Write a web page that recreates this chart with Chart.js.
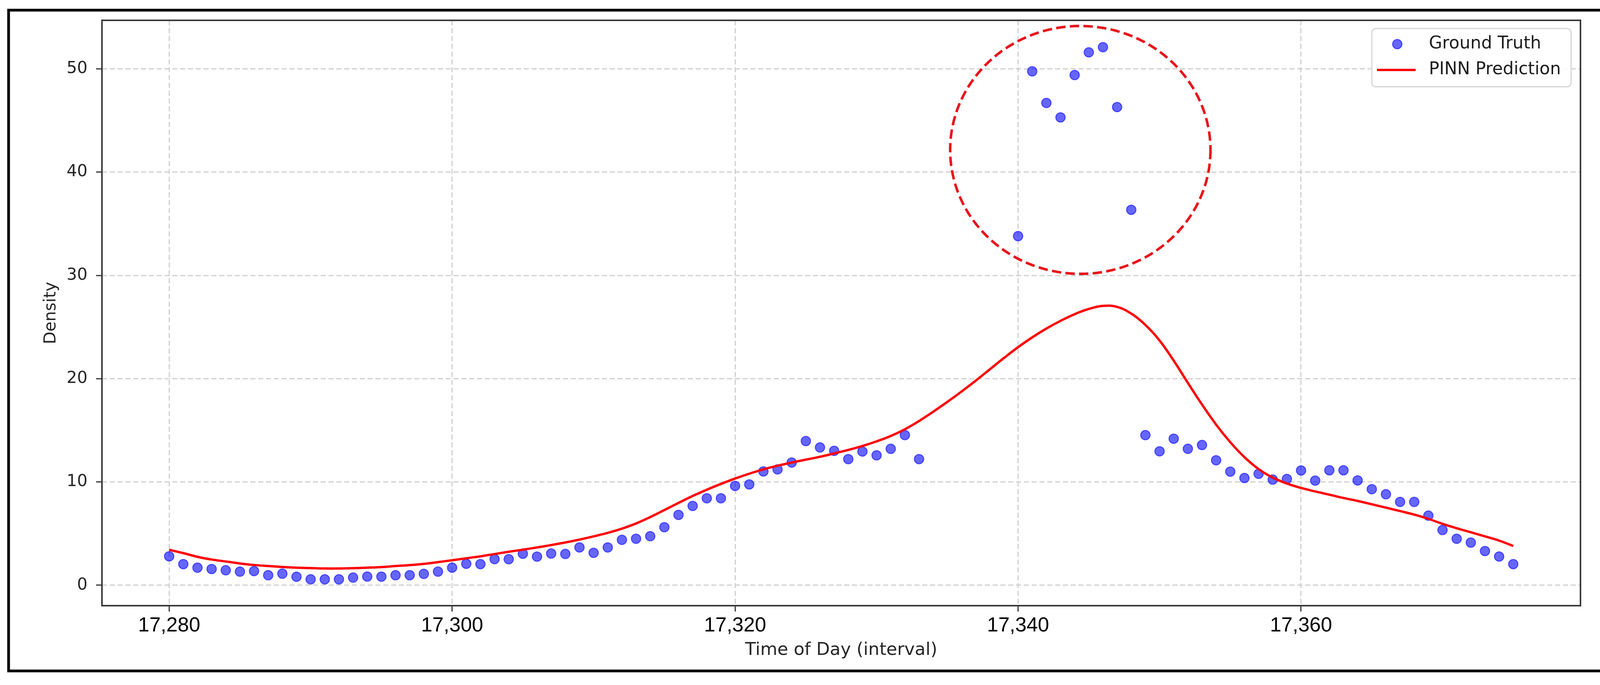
<!DOCTYPE html>
<html>
<head>
<meta charset="utf-8">
<title>Density: Ground Truth vs PINN Prediction</title>
<script src="https://cdn.jsdelivr.net/npm/chart.js@4.4.1/dist/chart.umd.min.js"></script>
<style>
  html, body { margin: 0; padding: 0; background: #fff; }
  #wrap { width: 4139px; height: 1753px; }
</style>
</head>
<body>
<div id="wrap"><canvas id="chart" width="4139" height="1753"></canvas></div>
<script>
// ============ values ============
// observed density (gap 17334-17339 has no observations)
const gtTime = [
  17280, 17281, 17282, 17283, 17284, 17285, 17286, 17287, 17288, 17289,
  17290, 17291, 17292, 17293, 17294, 17295, 17296, 17297, 17298, 17299,
  17300, 17301, 17302, 17303, 17304, 17305, 17306, 17307, 17308, 17309,
  17310, 17311, 17312, 17313, 17314, 17315, 17316, 17317, 17318, 17319,
  17320, 17321, 17322, 17323, 17324, 17325, 17326, 17327, 17328, 17329,
  17330, 17331, 17332, 17333,
  17340, 17341, 17342, 17343, 17344, 17345, 17346, 17347, 17348, 17349,
  17350, 17351, 17352, 17353, 17354, 17355, 17356, 17357, 17358, 17359,
  17360, 17361, 17362, 17363, 17364, 17365, 17366, 17367, 17368, 17369,
  17370, 17371, 17372, 17373, 17374, 17375
];
const gtDensity = [
  2.80, 2.04, 1.70, 1.57, 1.45, 1.32, 1.37, 0.97, 1.12, 0.82,
  0.57, 0.57, 0.57, 0.74, 0.84, 0.83, 0.97, 0.97, 1.10, 1.32,
  1.70, 2.08, 2.04, 2.53, 2.52, 3.05, 2.77, 3.07, 3.03, 3.66,
  3.14, 3.66, 4.40, 4.50, 4.75, 5.62, 6.81, 7.68, 8.42, 8.42,
  9.62, 9.76, 11.02, 11.22, 11.88, 13.96, 13.34, 13.01, 12.21, 12.95,
  12.58, 13.21, 14.54, 12.21,
  33.8, 49.76, 46.7, 45.3, 49.4, 51.6, 52.1, 46.3, 36.35, 14.54,
  12.97, 14.19, 13.21, 13.58, 12.10, 11.00, 10.38, 10.79, 10.23, 10.29,
  11.11, 10.13, 11.13, 11.13, 10.15, 9.30, 8.81, 8.07, 8.07, 6.74,
  5.35, 4.50, 4.13, 3.31, 2.78, 2.04
];

// model curve
const predTime = [
  17280, 17281, 17282, 17283, 17284, 17285, 17286, 17287, 17288, 17289,
  17290, 17291, 17292, 17293, 17294, 17295, 17296, 17297, 17298, 17299,
  17300, 17301, 17302, 17303, 17304, 17305, 17306, 17307, 17308, 17309,
  17310, 17311, 17312, 17313, 17314, 17315, 17316, 17317, 17318, 17319,
  17320, 17321, 17322, 17323, 17324, 17325, 17326, 17327, 17328, 17329,
  17330, 17331, 17332, 17333, 17334, 17335, 17336, 17337, 17338, 17339,
  17340, 17341, 17342, 17343, 17344, 17345, 17346, 17347, 17348, 17349,
  17350, 17351, 17352, 17353, 17354, 17355, 17356, 17357, 17358, 17359,
  17360, 17361, 17362, 17363, 17364, 17365, 17366, 17367, 17368, 17369,
  17370, 17371, 17372, 17373, 17374, 17375
];
const predDensity = [
  3.43, 3.11, 2.75, 2.49, 2.30, 2.11, 1.96, 1.86, 1.77, 1.70,
  1.66, 1.62, 1.62, 1.65, 1.70, 1.76, 1.86, 1.95, 2.07, 2.24,
  2.42, 2.61, 2.80, 3.02, 3.24, 3.44, 3.66, 3.89, 4.14, 4.42,
  4.73, 5.07, 5.48, 5.98, 6.60, 7.28, 7.97, 8.64, 9.25, 9.81,
  10.33, 10.80, 11.22, 11.57, 11.88, 12.16, 12.44, 12.76, 13.10, 13.48,
  13.93, 14.45, 15.10, 15.90, 16.80, 17.75, 18.75, 19.80, 20.90, 22.00,
  23.05, 24.00, 24.85, 25.60, 26.25, 26.75, 27.05, 26.95, 26.30, 25.20,
  23.70, 21.75, 19.60, 17.50, 15.55, 13.85, 12.40, 11.25, 10.42, 9.85,
  9.42, 9.08, 8.77, 8.45, 8.16, 7.84, 7.51, 7.18, 6.84, 6.43,
  5.94, 5.52, 5.13, 4.73, 4.32, 3.80
];

const xTicks = [17280, 17300, 17320, 17340, 17360];
const yTicks = [0, 10, 20, 30, 40, 50];
const xRange = [17275.25, 17379.75];
const yRange = [-1.98, 54.7];

// dashed ring around the outliers, in data units
const ringCenter = [17344.4, 42.15];
const ringRadius = [9.2, 12.0];

// ============ plugins ============
const frameBox = {
  id: 'frameBox',
  beforeDraw(chart) {
    const ctx = chart.ctx;
    ctx.save();
    ctx.fillStyle = '#fff';
    ctx.fillRect(0, 0, chart.width, chart.height);
    ctx.restore();
  },
  afterDraw(chart) {
    const {ctx, chartArea: a} = chart;
    ctx.save();
    ctx.strokeStyle = '#3a3a3a';
    ctx.lineWidth = 4;
    ctx.strokeRect(a.left, a.top, a.right - a.left, a.bottom - a.top);
    // outer black border around the whole figure
    ctx.strokeStyle = '#000';
    ctx.lineWidth = 7;
    ctx.strokeRect(22, 26, 4090, 1691);
    ctx.restore();
  }
};

const outlierRing = {
  id: 'outlierRing',
  afterDatasetsDraw(chart) {
    const {ctx, scales: {x, y}} = chart;
    const cx = x.getPixelForValue(ringCenter[0]);
    const cy = y.getPixelForValue(ringCenter[1]);
    const rx = x.getPixelForValue(ringCenter[0] + ringRadius[0]) - cx;
    const ry = cy - y.getPixelForValue(ringCenter[1] + ringRadius[1]);
    ctx.save();
    ctx.strokeStyle = '#e8141b';
    ctx.lineWidth = 6.5;
    ctx.setLineDash([24, 11]);
    ctx.beginPath();
    ctx.ellipse(cx, cy, rx, ry, 0, 0, Math.PI * 2);
    ctx.stroke();
    ctx.restore();
  }
};

const boxLegend = {
  id: 'boxLegend',
  afterDraw(chart) {
    const {ctx, chartArea: a} = chart;
    const ds = chart.data.datasets;
    const w = 510, h = 149;
    const left = a.right - 24 - w, top = a.top + 21;
    ctx.save();
    ctx.fillStyle = 'rgba(255,255,255,0.85)';
    ctx.strokeStyle = '#d6d6d6';
    ctx.lineWidth = 3;
    ctx.beginPath();
    ctx.roundRect(left, top, w, h, 10);
    ctx.fill();
    ctx.stroke();

    // Ground Truth marker
    const gt = ds[0];
    ctx.beginPath();
    ctx.arc(left + 65, top + 40, gt.pointRadius, 0, Math.PI * 2);
    ctx.fillStyle = gt.backgroundColor;
    ctx.fill();
    ctx.lineWidth = gt.borderWidth;
    ctx.strokeStyle = gt.borderColor;
    ctx.stroke();

    // PINN line sample
    const pr = ds[1];
    ctx.beginPath();
    ctx.moveTo(left + 13, top + 106);
    ctx.lineTo(left + 112, top + 106);
    ctx.strokeStyle = pr.borderColor;
    ctx.lineWidth = pr.borderWidth;
    ctx.stroke();

    ctx.fillStyle = '#1e1e1e';
    ctx.font = '44px "DejaVu Sans"';
    ctx.textBaseline = 'middle';
    ctx.textAlign = 'left';
    ctx.fillText(gt.label, left + 146, top + 40);
    ctx.fillText(pr.label, left + 146, top + 106);
    ctx.restore();
  }
};

// ============ chart ============
const gridStyle = {
  color: '#c8c8c8',
  lineWidth: 2.5,
  tickColor: '#333',
  tickWidth: 3,
  tickLength: 15,
  tickBorderDash: []
};

new Chart(document.getElementById('chart'), {
  type: 'line',
  data: {
    datasets: [
      {
        type: 'scatter',
        label: 'Ground Truth',
        data: gtTime.map((t, i) => ({x: t, y: gtDensity[i]})),
        pointRadius: 12,
        backgroundColor: 'rgba(0,0,255,0.6)',
        borderColor: 'rgba(0,0,255,0.6)',
        borderWidth: 2.5,
        order: 1
      },
      {
        type: 'line',
        label: 'PINN Prediction',
        data: predTime.map((t, i) => ({x: t, y: predDensity[i]})),
        borderColor: '#ff0000',
        borderWidth: 6,
        pointRadius: 0,
        fill: false,
        tension: 0.4,
        order: 0
      }
    ]
  },
  options: {
    responsive: false,
    devicePixelRatio: 1,
    animation: false,
    layout: {padding: {left: 0, right: 93, top: 52, bottom: 0}},
    plugins: {legend: {display: false}, tooltip: {enabled: false}},
    scales: {
      x: {
        type: 'linear',
        min: xRange[0],
        max: xRange[1],
        afterBuildTicks: s => { s.ticks = xTicks.map(v => ({value: v})); },
        afterFit: s => { s.height = 203; },
        grid: gridStyle,
        border: {display: false, dash: [13, 7]},
        ticks: {
          padding: 5,
          color: '#000',
          font: {family: '"Liberation Sans", Arial, sans-serif', size: 52},
          maxRotation: 0,
          callback: v => v.toLocaleString('en-US')
        },
        title: {
          display: true,
          text: 'Time of Day (interval)',
          color: '#262626',
          font: {family: '"DejaVu Sans"', size: 45},
          padding: {top: 0, bottom: 62}
        }
      },
      y: {
        type: 'linear',
        min: yRange[0],
        max: yRange[1],
        afterBuildTicks: s => { s.ticks = yTicks.map(v => ({value: v})); },
        afterFit: s => { s.width = 261; },
        grid: gridStyle,
        border: {display: false, dash: [13, 7]},
        ticks: {
          padding: 22,
          color: '#262626',
          font: {family: '"DejaVu Sans"', size: 42}
        },
        title: {
          display: true,
          text: 'Density',
          color: '#262626',
          font: {family: '"DejaVu Sans"', size: 42},
          padding: {top: 106, bottom: 0}
        }
      }
    }
  },
  plugins: [frameBox, outlierRing, boxLegend]
});
</script>
</body>
</html>
